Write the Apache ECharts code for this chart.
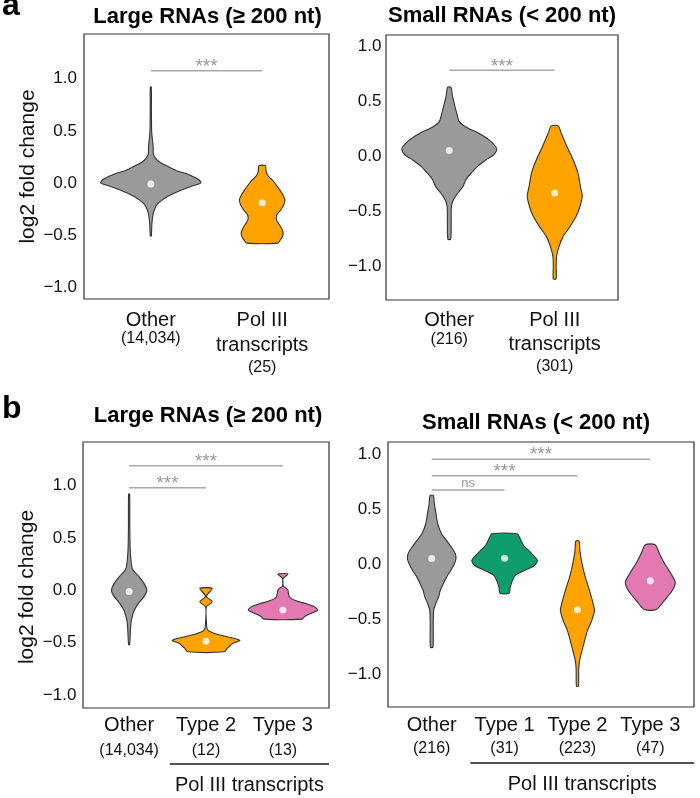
<!DOCTYPE html>
<html><head><meta charset="utf-8">
<script src="https://cdn.jsdelivr.net/npm/echarts@6/dist/echarts.min.js"></script>
<style>html,body{margin:0;padding:0;background:#fff}#c{width:700px;height:798px}</style>
</head><body><div id="c"></div>
<script>
// ================= DATA =================
const panelTitles = ['Large RNAs (\u2265 200 nt)', 'Small RNAs (< 200 nt)', 'Large RNAs (\u2265 200 nt)', 'Small RNAs (< 200 nt)'];
const panelLetters = ['a', 'b'];
const yAxisName = 'log2 fold change';
const groupLabel = 'Pol III transcripts';
const yTickValues = [-1.0, -0.5, 0.0, 0.5, 1.0];
const yTickLabels = ['\u22121.0', '\u22120.5', '0.0', '0.5', '1.0'];

// ---- Panel a, large RNAs ----
const aLargeCats = ['Other', 'Pol III\ntranscripts'];
const aLargeCounts = ['14,034', '25'];
const aLargeMedians = [-0.01, -0.19];
const aLargeOtherY = [0.92, 0.7, 0.5, 0.45, 0.35, 0.28, 0.24, 0.2, 0.16, 0.12, 0.09, 0.06, 0.03, 0.0, -0.035, -0.07, -0.1, -0.13, -0.163, -0.2, -0.226, -0.29, -0.39, -0.51];
const aLargeOtherW = [0.01, 0.012, 0.016, 0.024, 0.046, 0.05, 0.09, 0.17, 0.33, 0.5, 0.7, 0.85, 0.96, 1.0, 0.8, 0.6, 0.46, 0.33, 0.23, 0.14, 0.1, 0.05, 0.022, 0.01];
const aLargePolY = [0.166, 0.12, 0.08, 0.05, 0.029, -0.02, -0.067, -0.12, -0.163, -0.21, -0.26, -0.3, -0.33, -0.36, -0.4, -0.44, -0.48, -0.52, -0.55, -0.578];
const aLargePolW = [0.065, 0.075, 0.1, 0.15, 0.2, 0.28, 0.35, 0.42, 0.455, 0.43, 0.37, 0.3, 0.28, 0.29, 0.34, 0.39, 0.42, 0.4, 0.36, 0.31];
const aLargeSig = [[1, 2, 1.076, '***']];

// ---- Panel a, small RNAs ----
const aSmallCats = ['Other', 'Pol III\ntranscripts'];
const aSmallCounts = ['216', '301'];
const aSmallMedians = [0.055, -0.33];
const aSmallOtherY = [0.63, 0.545, 0.455, 0.39, 0.318, 0.27, 0.21, 0.152, 0.09, 0.06, 0.015, -0.03, -0.09, -0.15, -0.21, -0.27, -0.33, -0.39, -0.45, -0.575, -0.75];
const aSmallOtherW = [0.035, 0.07, 0.12, 0.16, 0.21, 0.35, 0.63, 0.84, 0.98, 1.0, 0.93, 0.77, 0.59, 0.46, 0.35, 0.29, 0.18, 0.09, 0.046, 0.04, 0.03];
const aSmallPolY = [0.28, 0.21, 0.09, -0.03, -0.15, -0.27, -0.36, -0.455, -0.545, -0.636, -0.727, -0.82, -0.91, -1.0, -1.11];
const aSmallPolW = [0.074, 0.14, 0.26, 0.39, 0.49, 0.54, 0.58, 0.53, 0.45, 0.32, 0.175, 0.088, 0.038, 0.03, 0.03];
const aSmallSig = [[1, 2, 0.785, '***']];

// ---- Panel b, large RNAs ----
const bLargeCats = ['Other', 'Type 2', 'Type 3'];
const bLargeCounts = ['14,034', '12', '13'];
const bLargeMedians = [-0.01, -0.485, -0.188];
const bLargeOtherY = [0.92, 0.6, 0.4, 0.3, 0.24, 0.194, 0.13, 0.067, 0.0, -0.06, -0.12, -0.19, -0.25, -0.32, -0.52];
const bLargeOtherW = [0.015, 0.02, 0.03, 0.05, 0.07, 0.11, 0.29, 0.43, 0.51, 0.43, 0.28, 0.15, 0.09, 0.05, 0.015];
const bLargeType2Y = [0.019, -0.055, -0.109, -0.157, -0.3, -0.38, -0.427, -0.46, -0.48, -0.507, -0.555, -0.587];
const bLargeType2W = [0.18, 0.012, 0.18, 0.012, 0.012, 0.05, 0.4, 0.84, 0.98, 0.77, 0.61, 0.53];
const bLargeType3Y = [0.156, 0.115, 0.04, 0.02, 0.0, -0.03, -0.07, -0.1, -0.13, -0.16, -0.19, -0.22, -0.25, -0.275];
const bLargeType3W = [0.145, 0.012, 0.012, 0.1, 0.15, 0.16, 0.2, 0.38, 0.7, 0.93, 1.0, 0.81, 0.63, 0.55];
const bLargeSig = [[1, 2, 0.98, '***'], [1, 3, 1.19, '***']];

// ---- Panel b, small RNAs ----
const bSmallCats = ['Other', 'Type 1', 'Type 2', 'Type 3'];
const bSmallCounts = ['216', '31', '223', '47'];
const bSmallMedians = [0.052, 0.055, -0.415, -0.151];
const bSmallOtherY = [0.626, 0.55, 0.46, 0.37, 0.277, 0.216, 0.155, 0.095, 0.05, 0.004, -0.057, -0.118, -0.18, -0.24, -0.3, -0.36, -0.42, -0.55, -0.756];
const bSmallOtherW = [0.05, 0.08, 0.13, 0.18, 0.3, 0.45, 0.6, 0.72, 0.74, 0.69, 0.58, 0.45, 0.35, 0.26, 0.21, 0.12, 0.06, 0.045, 0.04];
const bSmallType1Y = [0.277, 0.23, 0.17, 0.125, 0.08, 0.034, -0.012, -0.057, -0.1, -0.15, -0.21, -0.264];
const bSmallType1W = [0.38, 0.48, 0.58, 0.73, 0.88, 1.0, 0.91, 0.6, 0.33, 0.24, 0.17, 0.14];
const bSmallType2Y = [0.21, 0.125, 0.004, -0.118, -0.24, -0.36, -0.42, -0.51, -0.6, -0.695, -0.786, -0.877, -0.95, -1.11];
const bSmallType2W = [0.05, 0.075, 0.14, 0.24, 0.37, 0.48, 0.52, 0.44, 0.31, 0.22, 0.14, 0.067, 0.04, 0.03];
const bSmallType3Y = [0.177, 0.095, 0.004, -0.087, -0.164, -0.24, -0.33, -0.413];
const bSmallType3W = [0.15, 0.28, 0.44, 0.63, 0.76, 0.67, 0.43, 0.18];
const bSmallSig = [[1, 2, 0.674, 'ns'], [1, 3, 0.805, '***'], [1, 4, 0.956, '***']];

// ================= STYLE / LAYOUT =================
const FONT = '"Liberation Sans", Arial, Helvetica, sans-serif';
const TXT = '#111111';
const GRAY = '#9a9a9a', ORANGE = '#FFA300', GREEN = '#0F9D70', PINK = '#E27AB1';
const HALF = 0.45; // max half-width of a violin in category units

const panels = [
  { cats: aLargeCats, counts: aLargeCounts, med: aLargeMedians, sig: aLargeSig,
    shapes: [[aLargeOtherY, aLargeOtherW], [aLargePolY, aLargePolW]], colors: [GRAY, ORANGE],
    grid: { left: 84, top: 34, width: 245, height: 265 }, ymin: -1.115, ymax: 1.43,
    yMargin: 7, xMargin: 9.3, lh: [25, 10, 18], title: [207.5, 16.6], yName: true, group: false },
  { cats: aSmallCats, counts: aSmallCounts, med: aSmallMedians, sig: aSmallSig,
    shapes: [[aSmallOtherY, aSmallOtherW], [aSmallPolY, aSmallPolW]], colors: [GRAY, ORANGE],
    grid: { left: 386, top: 35, width: 232, height: 265 }, ymin: -1.303, ymax: 1.106,
    yMargin: 4.5, xMargin: 7.8, lh: [24.5, 15, 20], title: [502, 16], yName: false, group: false },
  { cats: bLargeCats, counts: bLargeCounts, med: bLargeMedians, sig: bLargeSig,
    shapes: [[bLargeOtherY, bLargeOtherW], [bLargeType2Y, bLargeType2W], [bLargeType3Y, bLargeType3W]], colors: [GRAY, ORANGE, PINK],
    grid: { left: 83, top: 442, width: 246, height: 266 }, ymin: -1.124, ymax: 1.418,
    yMargin: 6.6, xMargin: 5.2, lh: [25, 24, 24], title: [208, 416], yName: true, yNameShift: 24, group: true },
  { cats: bSmallCats, counts: bSmallCounts, med: bSmallMedians, sig: bSmallSig,
    shapes: [[bSmallOtherY, bSmallOtherW], [bSmallType1Y, bSmallType1W], [bSmallType2Y, bSmallType2W], [bSmallType3Y, bSmallType3W]], colors: [GRAY, GREEN, ORANGE, PINK],
    grid: { left: 388, top: 442, width: 306, height: 265 }, ymin: -1.30, ymax: 1.112,
    yMargin: 6.7, xMargin: 6.3, lh: [25, 20, 20], title: [536, 422.5], yName: false, group: true }
];

const grids = [], xAxes = [], yAxes = [], series = [], graphics = [];

panels.forEach((p, pi) => {
  const n = p.cats.length;
  grids.push(Object.assign({ show: true, borderColor: '#333', borderWidth: 1.2, backgroundColor: 'transparent', outerBoundsMode: 'none', containLabel: false }, p.grid));
  xAxes.push({
    type: 'value', gridIndex: pi, min: 0.4, max: n + 0.6,
    splitLine: { show: false }, axisLine: { show: false }, axisTick: { show: false },
    axisLabel: {
      margin: p.xMargin, color: TXT, fontFamily: FONT, fontSize: 20, lineHeight: p.lh[0],
      rich: {
        m: { fontSize: 20, lineHeight: p.lh[0], color: TXT, fontFamily: FONT },
        c1: { fontSize: 16, lineHeight: p.lh[1], color: TXT, fontFamily: FONT },
        c3: { fontSize: 16, lineHeight: p.lh[2], color: TXT, fontFamily: FONT }
      },
      formatter: (v) => {
        const r = Math.round(v);
        if (Math.abs(v - r) > 1e-6 || r < 1 || r > n) return '';
        const lines = p.cats[r - 1].split('\n');
        const key = lines.length > 1 ? 'c3' : 'c1';
        return lines.map(l => '{m|' + l + '}').join('\n') + '\n{' + key + '|(' + p.counts[r - 1] + ')}';
      }
    }
  });
  yAxes.push({
    type: 'value', gridIndex: pi, min: p.ymin, max: p.ymax,
    splitLine: { show: false }, axisLine: { show: false }, axisTick: { show: false },
    axisLabel: {
      margin: p.yMargin, color: TXT, fontFamily: FONT, fontSize: 17,
      formatter: (v) => {
        for (let i = 0; i < yTickValues.length; i++) if (Math.abs(v - yTickValues[i]) < 1e-6) return yTickLabels[i];
        return '';
      }
    },
    name: p.yName ? yAxisName : '',
    nameLocation: 'middle', nameGap: 45,
    nameTextStyle: { fontFamily: FONT, fontSize: 21, color: TXT, padding: [0, p.yNameShift || 0, 0, 0] }
  });

  // violins
  series.push({
    type: 'custom', xAxisIndex: pi, yAxisIndex: pi, silent: true, z: 2,
    data: p.cats.map((c, i) => ({ value: [i + 1, p.shapes[i][0][0]], itemStyle: { color: p.colors[i] } })),
    renderItem: (params, api) => {
      const i = params.dataIndex;
      const x = api.value(0);
      const Y = p.shapes[i][0], W = p.shapes[i][1];
      const pts = [];
      for (let k = 0; k < Y.length; k++) pts.push(api.coord([x + W[k] * HALF, Y[k]]));
      for (let k = Y.length - 1; k >= 0; k--) pts.push(api.coord([x - W[k] * HALF, Y[k]]));
      return { type: 'polygon', shape: { points: pts, smooth: 0.25 },
        style: { fill: api.visual('color'), stroke: '#333333', lineWidth: 1.1 } };
    }
  });
  // medians
  series.push({
    type: 'scatter', xAxisIndex: pi, yAxisIndex: pi, silent: true, z: 5,
    symbol: 'circle', symbolSize: 7,
    itemStyle: { color: '#ffffff', borderWidth: 0 },
    data: p.med.map((m, i) => [i + 1, m])
  });
  // significance brackets
  series.push({
    type: 'custom', xAxisIndex: pi, yAxisIndex: pi, silent: true, z: 3,
    encode: { x: [0, 2], y: 1 },
    data: p.sig.map(s => [s[0], s[2], s[1]]),
    renderItem: (params, api) => {
      const s = p.sig[params.dataIndex];
      const a = api.coord([api.value(0), api.value(1)]);
      const b = api.coord([api.value(2), api.value(1)]);
      const isNs = s[3] === 'ns';
      return { type: 'group', children: [
        { type: 'line', shape: { x1: a[0], y1: a[1], x2: b[0], y2: b[1] }, style: { stroke: '#a8a8a8', lineWidth: 1.5 } },
        { type: 'text', style: { text: s[3], x: (a[0] + b[0]) / 2, y: a[1] + (isNs ? -6.8 : -4), align: 'center', verticalAlign: 'middle',
          fill: '#999999', fontFamily: FONT, fontSize: isNs ? 13 : 19 } }
      ] };
    }
  });
  // group label under categories
  if (p.group) {
    series.push({
      type: 'custom', xAxisIndex: pi, yAxisIndex: pi, silent: true, z: 3,
      encode: { x: [0, 2], y: 1 },
      data: [[1.53, p.ymin, n + 0.6]],
      renderItem: (params, api) => {
        const a = api.coord([api.value(0), api.value(1)]);
        const b = api.coord([api.value(2), api.value(1)]);
        return { type: 'group', children: [
          { type: 'line', shape: { x1: a[0], y1: a[1] + 56, x2: b[0], y2: b[1] + 56 }, style: { stroke: '#1a1a1a', lineWidth: 1.5 } },
          { type: 'text', style: { text: groupLabel, x: (a[0] + b[0]) / 2, y: a[1] + 77, align: 'center', verticalAlign: 'middle',
            fill: TXT, fontFamily: FONT, fontSize: 20 } }
        ] };
      }
    });
  }
  graphics.push({ type: 'text', silent: true, style: { text: panelTitles[pi], x: p.title[0], y: p.title[1], align: 'center', verticalAlign: 'middle',
    fill: '#000', font: 'bold 22px ' + FONT } });
});

graphics.push({ type: 'text', silent: true, style: { text: panelLetters[0], x: 2, y: 6.6, align: 'left', verticalAlign: 'middle', fill: '#000', font: 'bold 32px ' + FONT } });
graphics.push({ type: 'text', silent: true, style: { text: panelLetters[1], x: 2, y: 408.9, align: 'left', verticalAlign: 'middle', fill: '#000', font: 'bold 32px ' + FONT } });

const chart = echarts.init(document.getElementById('c'), null, { renderer: 'canvas' });
chart.setOption({
  animation: false,
  backgroundColor: '#ffffff',
  grid: grids, xAxis: xAxes, yAxis: yAxes, series: series, graphic: graphics
});
</script></body></html>
